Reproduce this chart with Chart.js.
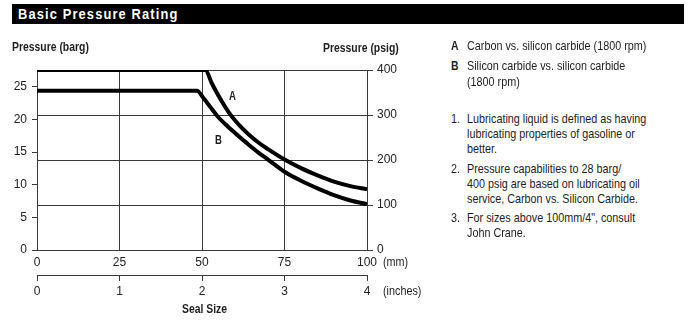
<!DOCTYPE html>
<html>
<head>
<meta charset="utf-8">
<script src="https://cdn.jsdelivr.net/npm/chart.js@4.4.1/dist/chart.umd.min.js"></script>
<style>
  html, body { margin:0; padding:0; background:#fff; width:691px; height:326px; overflow:hidden; }
  body { position:relative; font-family:'Liberation Sans',Arial,sans-serif; color:#1e1e1e; }
  #wrap { position:absolute; left:0; top:0; width:430px; height:326px; }
  .t { position:absolute; white-space:nowrap; line-height:16px; font-size:13px; transform:scaleX(0.83); transform-origin:0 50%; }
  .b { font-weight:bold; transform:scaleX(0.8); }
  #banner { position:absolute; left:12px; top:4px; width:672px; height:20px; background:#000; }
  #banner span { position:absolute; left:6px; top:0; line-height:20px; color:#fff; font-weight:bold; font-size:15px; letter-spacing:1.3px; transform:scaleX(0.86); transform-origin:0 50%; white-space:nowrap; }
</style>
</head>
<body>
<div id="banner"><span>Basic Pressure Rating</span></div>
<div id="wrap"><canvas id="c" width="430" height="326"></canvas></div>

<div class="t b" style="left:12px; top:39px;">Pressure (barg)</div>
<div class="t b" style="left:323px; top:40px;">Pressure (psig)</div>
<div class="t b" style="left:229px; top:88px; font-size:12px;">A</div>
<div class="t b" style="left:215px; top:132px; font-size:12px;">B</div>
<div class="t" style="left:383px; top:254px;">(mm)</div>
<div class="t" style="left:383px; top:283px;">(inches)</div>
<div class="t b" style="left:182px; top:301px;">Seal Size</div>

<div class="t b" style="left:451px; top:38px;">A</div>
<div class="t" style="left:467px; top:38px;">Carbon vs. silicon carbide (1800 rpm)</div>
<div class="t b" style="left:451px; top:58px;">B</div>
<div class="t" style="left:467px; top:58px;">Silicon carbide vs. silicon carbide</div>
<div class="t" style="left:467px; top:74px;">(1800 rpm)</div>

<div class="t" style="left:451px; top:111px;">1.</div>
<div class="t" style="left:467px; top:111px;">Lubricating liquid is defined as having</div>
<div class="t" style="left:467px; top:126px;">lubricating properties of gasoline or</div>
<div class="t" style="left:467px; top:141px;">better.</div>
<div class="t" style="left:451px; top:161px;">2.</div>
<div class="t" style="left:467px; top:161px;">Pressure capabilities to 28 barg/</div>
<div class="t" style="left:467px; top:176px;">400 psig are based on lubricating oil</div>
<div class="t" style="left:467px; top:191px;">service, Carbon vs. Silicon Carbide.</div>
<div class="t" style="left:451px; top:210px;">3.</div>
<div class="t" style="left:467px; top:210px;">For sizes above 100mm/4", consult</div>
<div class="t" style="left:467px; top:225px;">John Crane.</div>

<script>
// Seal size (mm) and pressure (psig)
const sealSizeA = [0, 51, 53, 55, 58.5, 62, 66, 70, 75, 80, 85, 90, 95, 100];
const pressureA = [400, 400, 370, 343, 302, 272, 245, 224, 201, 182, 166, 152, 142, 135];
const sealSizeB = [0, 48.5, 50.5, 52.5, 54.5, 57, 60, 63.5, 67, 70, 75, 80, 85, 90, 95, 100];
const pressureB = [354, 354, 337, 318, 299, 280, 260, 238, 217, 201, 174, 154, 137, 122, 110, 102];
const mmTicks = [0, 25, 50, 75, 100];
const inchTicks = [0, 1, 2, 3, 4];
const psigTicks = [0, 100, 200, 300, 400];
const bargTicks = [0, 5, 10, 15, 20, 25];
const PSI_PER_BAR = 14.5038;

const FONT = "'Liberation Sans', Arial, sans-serif";
const GRID = '#3a3a3a';
const TXT = '#222';

function pts(xs, ys) { return xs.map((x, i) => ({ x: x, y: ys[i] })); }

new Chart(document.getElementById('c'), {
  type: 'line',
  data: {
    datasets: [
      { label: 'A', data: pts(sealSizeA, pressureA), borderColor: '#000', borderWidth: 4,
        pointRadius: 0, cubicInterpolationMode: 'monotone', fill: false, xAxisID: 'x', yAxisID: 'y',
        borderJoinStyle: 'round', borderCapStyle: 'butt' },
      { label: 'B', data: pts(sealSizeB, pressureB), borderColor: '#000', borderWidth: 4,
        pointRadius: 0, cubicInterpolationMode: 'monotone', fill: false, xAxisID: 'x', yAxisID: 'y',
        borderJoinStyle: 'round', borderCapStyle: 'butt' }
    ]
  },
  options: {
    responsive: false,
    animation: false,
    events: [],
    layout: { padding: { top: 70, right: 33, bottom: 27, left: 0 } },
    plugins: { legend: { display: false }, tooltip: { enabled: false } },
    scales: {
      x: {
        type: 'linear', position: 'bottom', weight: 0, min: 0, max: 100,
        afterBuildTicks: s => { s.ticks = mmTicks.map(v => ({ value: v })); },
        ticks: { color: TXT, font: { family: FONT, size: 12 }, padding: 5, maxRotation: 0 },
        grid: { color: GRID, lineWidth: 1, drawTicks: false },
        border: { color: GRID, width: 1 },
        afterFit: s => { s.height = 25; }
      },
      xin: {
        type: 'linear', position: 'bottom', weight: 1, min: 0, max: 4,
        afterBuildTicks: s => { s.ticks = inchTicks.map(v => ({ value: v })); },
        ticks: { color: TXT, font: { family: FONT, size: 12 }, padding: 3, maxRotation: 0 },
        grid: { drawOnChartArea: false, drawTicks: true, tickLength: 6, color: GRID, lineWidth: 1 },
        border: { display: true, color: GRID, width: 1 },
        afterFit: s => { s.height = 24; }
      },
      y: {
        type: 'linear', position: 'right', min: 0, max: 400,
        afterBuildTicks: s => { s.ticks = psigTicks.map(v => ({ value: v })); },
        ticks: { color: TXT, font: { family: FONT, size: 12 }, padding: 4 },
        grid: { color: GRID, lineWidth: 1, tickLength: 6 },
        border: { color: GRID, width: 1 },
        afterFit: s => { s.width = 30; }
      },
      yb: {
        type: 'linear', position: 'left', min: 0, max: 400 / PSI_PER_BAR,
        afterBuildTicks: s => { s.ticks = bargTicks.map(v => ({ value: v })); },
        ticks: { color: TXT, font: { family: FONT, size: 12 }, padding: 5 },
        grid: { drawOnChartArea: false, tickLength: 5, color: GRID, lineWidth: 1 },
        border: { color: GRID, width: 1 },
        afterFit: s => { s.width = 37; }
      }
    }
  }
});
</script>
</body>
</html>
